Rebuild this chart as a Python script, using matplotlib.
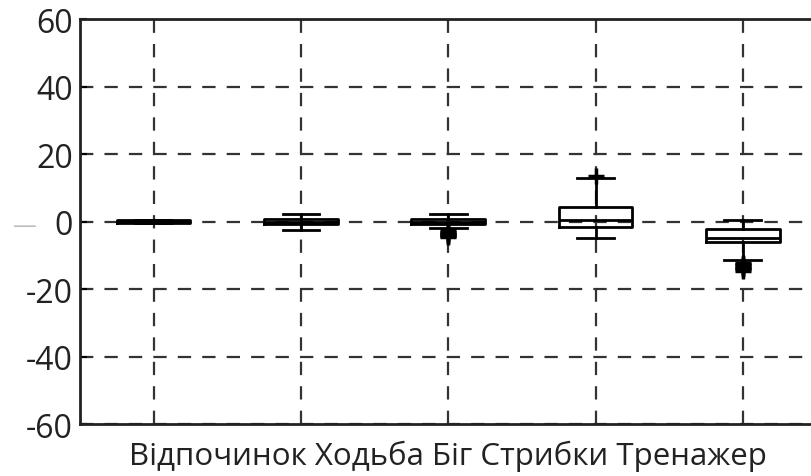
import matplotlib.pyplot as plt

plt.rcParams['font.family'] = ['Open Sans', 'DejaVu Sans']
plt.rcParams['axes.unicode_minus'] = False

# activities (shown as one joined x label in the original)
activities = ['Відпочинок', 'Ходьба', 'Біг', 'Стрибки', 'Тренажер']

# box statistics
medians = [0.0, 0.0, 0.0, 0.4, -4.8]
q1 = [-0.4, -0.8, -0.7, -1.6, -6.2]
q3 = [0.4, 0.8, 0.7, 4.4, -2.1]
whis_lo = [-0.4, -2.4, -2.0, -4.8, -11.5]
whis_hi = [0.4, 2.2, 2.2, 12.9, 0.4]
outliers = [
    [],
    [],
    [-2.6, -3.0, -3.3, -3.7, -4.0, -4.4, -4.7],
    [13.4],
    [-12.2, -12.6, -13.0, -13.4, -13.8, -14.2, -14.6],
]

stats = []
for i, name in enumerate(activities):
    stats.append({
        'label': name,
        'med': medians[i],
        'q1': q1[i],
        'q3': q3[i],
        'whislo': whis_lo[i],
        'whishi': whis_hi[i],
        'fliers': outliers[i],
    })

fig = plt.figure(figsize=(8.12, 4.77), dpi=100)
ax = fig.add_axes([0.0985, 0.109, 0.907, 0.849])

ax.bxp(stats, positions=range(1, 6), widths=0.5,
       boxprops=dict(color='black', linewidth=2),
       medianprops=dict(color='black', linewidth=2),
       whiskerprops=dict(color='black', linewidth=2),
       capprops=dict(color='black', linewidth=2),
       flierprops=dict(marker='+', markeredgecolor='black', markersize=12,
                       markeredgewidth=2.5))

ax.set_xlim(0.5, 5.5)
ax.set_ylim(-60, 60)
ax.set_yticks([-60, -40, -20, 0, 20, 40, 60])
ax.set_xticks(range(1, 6))
ax.set_xticklabels([])
ax.tick_params(axis='x', length=0)
ax.tick_params(axis='y', direction='in', length=5, width=1.5, labelsize=23,
               labelcolor='#222222', pad=5)

ax.grid(True, color='#333333', linestyle=(0, (6, 5)), linewidth=1.6)
ax.set_axisbelow(True)
for s in ax.spines.values():
    s.set_linewidth(2)
    s.set_color('#222222')

ax.set_xlabel(' '.join(activities), fontsize=22.5, color='#222222', labelpad=8)

fig.text(0.031, 0.524, '—', fontsize=17, color='#bbbbbb', ha='center', va='center')

fig.savefig('out.png', dpi=100)
